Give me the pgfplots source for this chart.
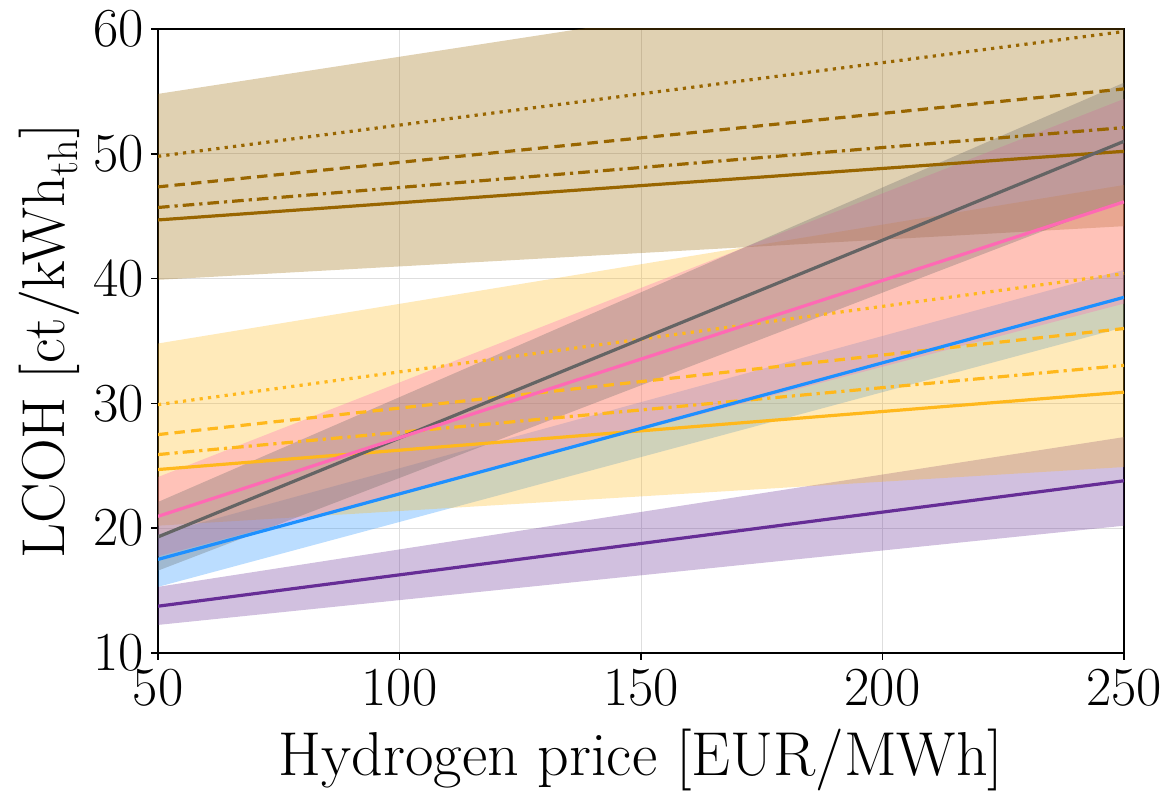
\documentclass[border=0pt]{standalone}
\usepackage{fontspec}
\usepackage{pgfplots}
\pgfplotsset{compat=1.18}
\usepgfplotslibrary{fillbetween}
\definecolor{cbrown}{RGB}{153,102,0}
\definecolor{cyellow}{RGB}{255,184,28}
\definecolor{cpink}{RGB}{255,105,180}
\definecolor{cgray}{RGB}{100,100,100}
\definecolor{cblue}{RGB}{30,144,255}
\definecolor{cpurple}{RGB}{102,45,150}
\definecolor{cgrid}{RGB}{222,222,222}
\begin{document}
\begin{tikzpicture}
\begin{axis}[
  width=483pt, height=312pt, scale only axis,
  xmin=50, xmax=250, ymin=10, ymax=60,
  xtick={50,100,150,200,250}, ytick={10,20,30,40,50,60},
  tick align=outside, xtick pos=lower, ytick pos=left,
  major tick length=3.5pt,
  tick style={black, line width=0.8pt},
  axis line style={line width=0.8pt},
  grid=major, grid style={cgrid, line width=0.5pt},
  /pgf/number format/assume math mode=true,
  tick label style={font=\fontsize{27.5}{29}\selectfont},
  xticklabel style={yshift=-1pt},
  xlabel={Hydrogen price [EUR/MWh]},
  ylabel={LCOH [ct/kWh\textsubscript{th}]},
  every axis y label/.style={at={(axis description cs:-0.112,0.5)}, rotate=90, anchor=center, font=\fontsize{30.3}{32}\selectfont},
  every axis x label/.style={at={(axis description cs:0.5,-0.172)}, anchor=center, font=\fontsize{31}{33}\selectfont},
  clip=true,
]
\path (rel axis cs:0,0) coordinate (sw) (rel axis cs:1,1) coordinate (ne);
% bands
\addplot[name path=vU, draw=none, forget plot] coordinates {(50,15.3) (250,27.3)};
\addplot[name path=vL, draw=none, forget plot] coordinates {(50,12.25) (250,20.2)};
\addplot[fill=cpurple, fill opacity=0.3, draw=none, forget plot] fill between[of=vU and vL];
\addplot[name path=lU, draw=none, forget plot] coordinates {(50,19.5) (250,40.7)};
\addplot[name path=lL, draw=none, forget plot] coordinates {(50,15.3) (250,36.1)};
\addplot[fill=cblue, fill opacity=0.3, draw=none, forget plot] fill between[of=lU and lL];
\addplot[name path=yU, draw=none, forget plot] coordinates {(50,34.8) (250,47.5)};
\addplot[name path=yL, draw=none, forget plot] coordinates {(50,20.2) (250,24.9)};
\addplot[fill=cyellow, fill opacity=0.3, draw=none, forget plot] fill between[of=yU and yL];
\addplot[name path=bU, draw=none, forget plot] coordinates {(50,54.8) (250,66.7)};
\addplot[name path=bL, draw=none, forget plot] coordinates {(50,39.9) (250,44.2)};
\addplot[fill=cbrown, fill opacity=0.3, draw=none, forget plot] fill between[of=bU and bL];
\addplot[name path=pU, draw=none, forget plot] coordinates {(50,24.1) (250,54.4)};
\addplot[name path=pL, draw=none, forget plot] coordinates {(50,17.75) (250,38.0)};
\addplot[fill=cpink, fill opacity=0.3, draw=none, forget plot] fill between[of=pU and pL];
\addplot[name path=gU, draw=none, forget plot] coordinates {(50,22.1) (250,55.7)};
\addplot[name path=gL, draw=none, forget plot] coordinates {(50,16.6) (250,46.3)};
\addplot[fill=cgray, fill opacity=0.3, draw=none, forget plot] fill between[of=gU and gL];
% brown lines
\addplot[cbrown, line width=1.6pt] coordinates {(50,44.7) (250,50.2)};
\addplot[cbrown, line width=1.6pt, dash pattern=on 5.8pt off 2.5pt on 1.6pt off 2.5pt] coordinates {(50,45.7) (250,52.1)};
\addplot[cbrown, line width=1.6pt, dash pattern=on 5.2pt off 3.1pt] coordinates {(50,47.35) (250,55.2)};
\addplot[cbrown, line width=1.6pt, dash pattern=on 1.6pt off 2.6pt] coordinates {(50,49.8) (250,59.8)};
% yellow lines
\addplot[cyellow, line width=1.6pt] coordinates {(50,24.7) (250,30.9)};
\addplot[cyellow, line width=1.6pt, dash pattern=on 5.8pt off 2.5pt on 1.6pt off 2.5pt] coordinates {(50,25.9) (250,33.05)};
\addplot[cyellow, line width=1.6pt, dash pattern=on 5.2pt off 3.1pt] coordinates {(50,27.5) (250,36.0)};
\addplot[cyellow, line width=1.6pt, dash pattern=on 1.6pt off 2.6pt] coordinates {(50,29.9) (250,40.4)};
% other lines
\addplot[cgray, line width=1.6pt] coordinates {(50,19.3) (250,51.0)};
\addplot[cpink, line width=1.6pt] coordinates {(50,20.95) (250,46.15)};
\addplot[cblue, line width=1.6pt] coordinates {(50,17.5) (250,38.5)};
\addplot[cpurple, line width=1.6pt] coordinates {(50,13.75) (250,23.8)};
\end{axis}
\pgfresetboundingbox
\path[use as bounding box] ([xshift=-79pt,yshift=-71.5pt]sw) rectangle ([xshift=21pt,yshift=14.5pt]ne);
\end{tikzpicture}
\end{document}
